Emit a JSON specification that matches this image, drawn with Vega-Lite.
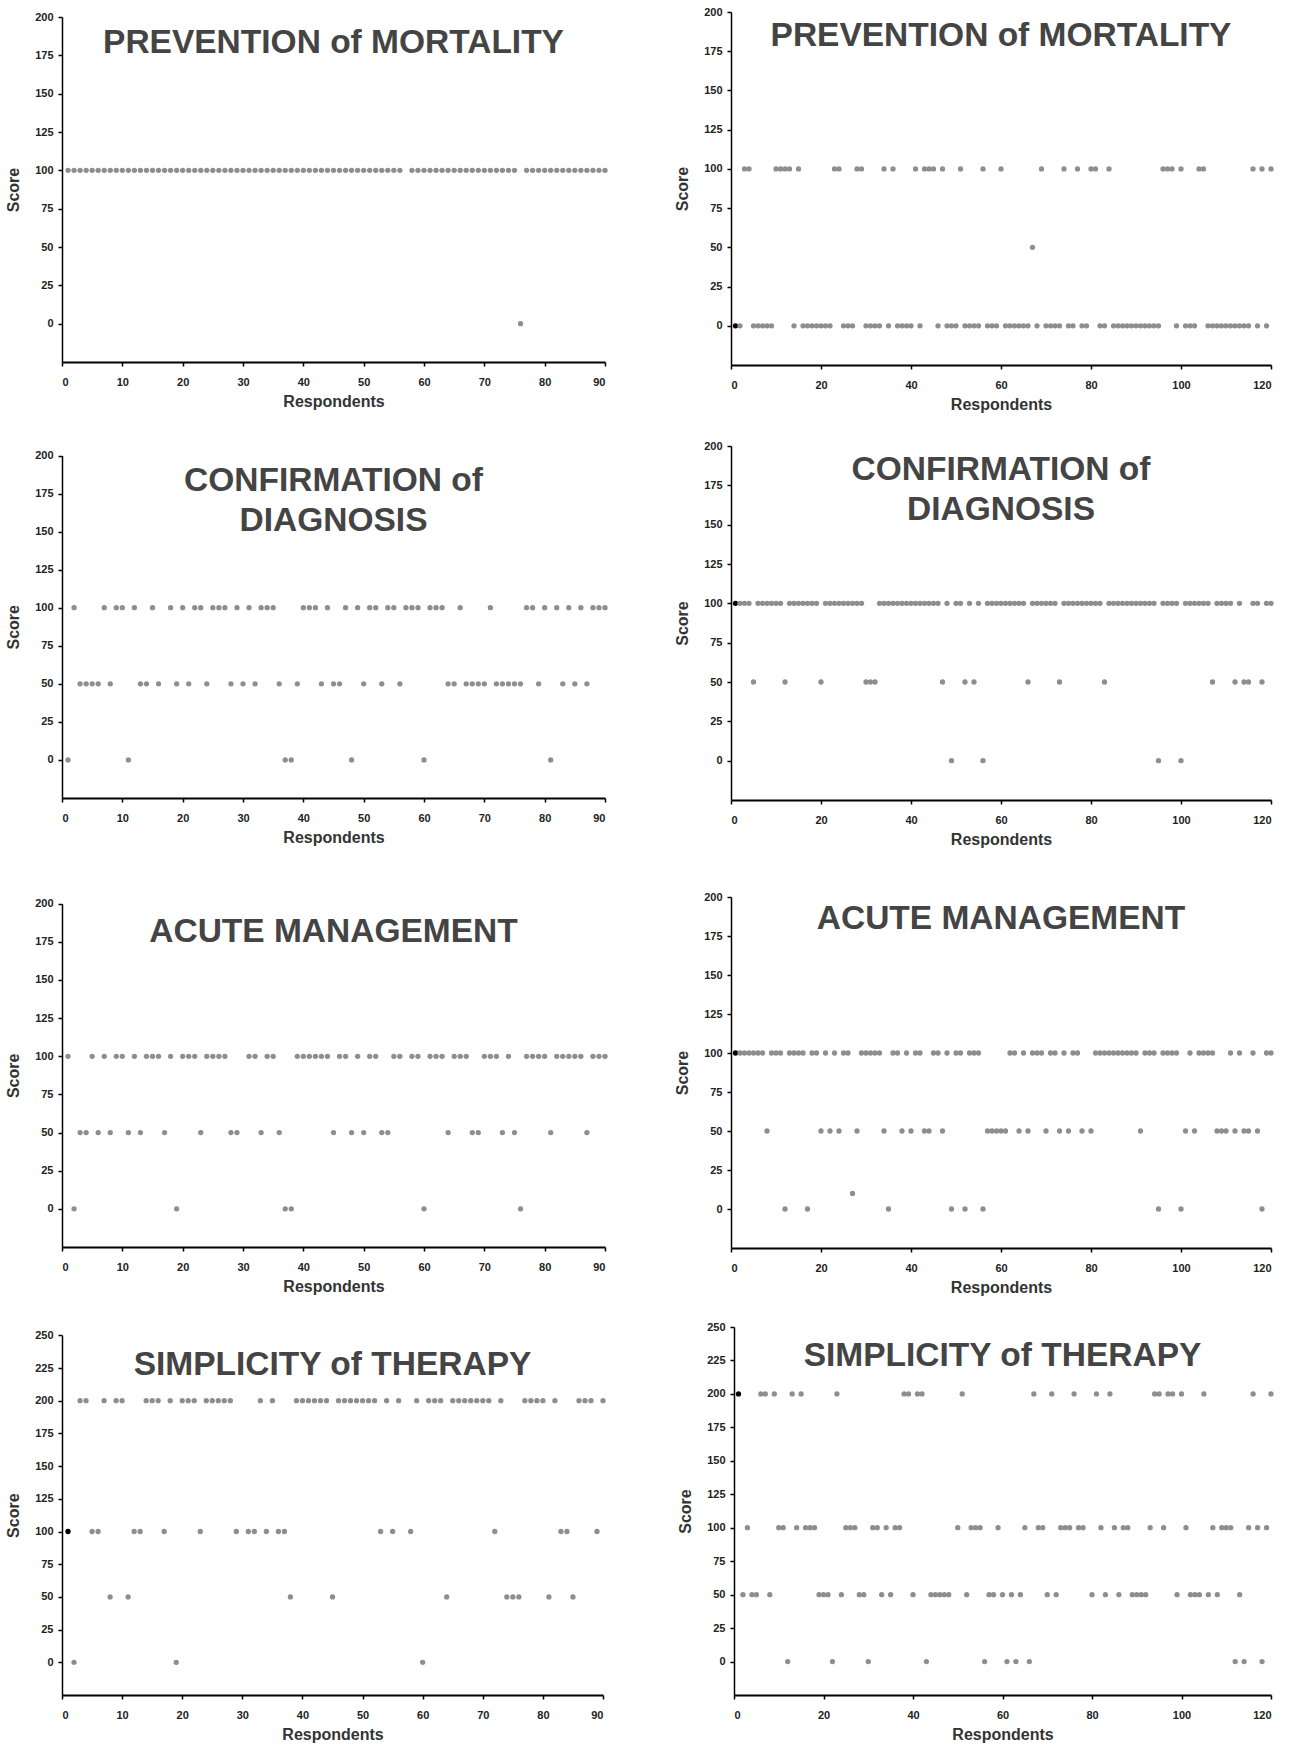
{
"$schema": "https://vega.github.io/schema/vega-lite/v6.json",
"background": "white",
"padding": {"left": 5, "top": 6, "right": 5, "bottom": 5},
"config": {
  "font": "Liberation Sans",
  "view": {"stroke": null},
  "axis": {"domainColor": "#000", "tickColor": "#000", "tickSize": 4, "labelFont": "Liberation Sans", "labelFontSize": 11, "labelFontWeight": "bold", "labelColor": "#222", "titleFont": "Liberation Sans", "titleFontSize": 16, "titleFontWeight": "bold", "titleColor": "#333", "grid": false},
  "axisX": {"labelPadding": 10, "titlePadding": 6, "domainWidth": 2, "tickWidth": 1.5},
  "axisY": {"labelPadding": 5, "titlePadding": 13, "domainWidth": 1.5, "tickWidth": 1.5},
  "title": {"font": "Liberation Sans", "fontSize": 33.5, "fontWeight": "bold", "color": "#444", "anchor": "middle", "baseline": "alphabetic", "lineHeight": 40, "frame": "group"},
  "point": {"filled": true, "size": 28, "opacity": 1}
},
"datasets": {
"a1": [{"r":1,"s":100},{"r":2,"s":100},{"r":3,"s":100},{"r":4,"s":100},{"r":5,"s":100},{"r":6,"s":100},{"r":7,"s":100},{"r":8,"s":100},{"r":9,"s":100},{"r":10,"s":100},{"r":11,"s":100},{"r":12,"s":100},{"r":13,"s":100},{"r":14,"s":100},{"r":15,"s":100},{"r":16,"s":100},{"r":17,"s":100},{"r":18,"s":100},{"r":19,"s":100},{"r":20,"s":100},{"r":21,"s":100},{"r":22,"s":100},{"r":23,"s":100},{"r":24,"s":100},{"r":25,"s":100},{"r":26,"s":100},{"r":27,"s":100},{"r":28,"s":100},{"r":29,"s":100},{"r":30,"s":100},{"r":31,"s":100},{"r":32,"s":100},{"r":33,"s":100},{"r":34,"s":100},{"r":35,"s":100},{"r":36,"s":100},{"r":37,"s":100},{"r":38,"s":100},{"r":39,"s":100},{"r":40,"s":100},{"r":41,"s":100},{"r":42,"s":100},{"r":43,"s":100},{"r":44,"s":100},{"r":45,"s":100},{"r":46,"s":100},{"r":47,"s":100},{"r":48,"s":100},{"r":49,"s":100},{"r":50,"s":100},{"r":51,"s":100},{"r":52,"s":100},{"r":53,"s":100},{"r":54,"s":100},{"r":55,"s":100},{"r":56,"s":100},{"r":58,"s":100},{"r":59,"s":100},{"r":60,"s":100},{"r":61,"s":100},{"r":62,"s":100},{"r":63,"s":100},{"r":64,"s":100},{"r":65,"s":100},{"r":66,"s":100},{"r":67,"s":100},{"r":68,"s":100},{"r":69,"s":100},{"r":70,"s":100},{"r":71,"s":100},{"r":72,"s":100},{"r":73,"s":100},{"r":74,"s":100},{"r":75,"s":100},{"r":76,"s":0},{"r":77,"s":100},{"r":78,"s":100},{"r":79,"s":100},{"r":80,"s":100},{"r":81,"s":100},{"r":82,"s":100},{"r":83,"s":100},{"r":84,"s":100},{"r":85,"s":100},{"r":86,"s":100},{"r":87,"s":100},{"r":88,"s":100},{"r":89,"s":100},{"r":90,"s":100}],
"b1": [{"r":1,"s":0},{"r":2,"s":0},{"r":3,"s":100},{"r":4,"s":100},{"r":5,"s":0},{"r":6,"s":0},{"r":7,"s":0},{"r":8,"s":0},{"r":9,"s":0},{"r":10,"s":100},{"r":11,"s":100},{"r":12,"s":100},{"r":13,"s":100},{"r":14,"s":0},{"r":15,"s":100},{"r":16,"s":0},{"r":17,"s":0},{"r":18,"s":0},{"r":19,"s":0},{"r":20,"s":0},{"r":21,"s":0},{"r":22,"s":0},{"r":23,"s":100},{"r":24,"s":100},{"r":25,"s":0},{"r":26,"s":0},{"r":27,"s":0},{"r":28,"s":100},{"r":29,"s":100},{"r":30,"s":0},{"r":31,"s":0},{"r":32,"s":0},{"r":33,"s":0},{"r":34,"s":100},{"r":35,"s":0},{"r":36,"s":100},{"r":37,"s":0},{"r":38,"s":0},{"r":39,"s":0},{"r":40,"s":0},{"r":41,"s":100},{"r":42,"s":0},{"r":43,"s":100},{"r":44,"s":100},{"r":45,"s":100},{"r":46,"s":0},{"r":47,"s":100},{"r":48,"s":0},{"r":49,"s":0},{"r":50,"s":0},{"r":51,"s":100},{"r":52,"s":0},{"r":53,"s":0},{"r":54,"s":0},{"r":55,"s":0},{"r":56,"s":100},{"r":57,"s":0},{"r":58,"s":0},{"r":59,"s":0},{"r":60,"s":100},{"r":61,"s":0},{"r":62,"s":0},{"r":63,"s":0},{"r":64,"s":0},{"r":65,"s":0},{"r":66,"s":0},{"r":67,"s":50},{"r":68,"s":0},{"r":69,"s":100},{"r":70,"s":0},{"r":71,"s":0},{"r":72,"s":0},{"r":73,"s":0},{"r":74,"s":100},{"r":75,"s":0},{"r":76,"s":0},{"r":77,"s":100},{"r":78,"s":0},{"r":79,"s":0},{"r":80,"s":100},{"r":81,"s":100},{"r":82,"s":0},{"r":83,"s":0},{"r":84,"s":100},{"r":85,"s":0},{"r":86,"s":0},{"r":87,"s":0},{"r":88,"s":0},{"r":89,"s":0},{"r":90,"s":0},{"r":91,"s":0},{"r":92,"s":0},{"r":93,"s":0},{"r":94,"s":0},{"r":95,"s":0},{"r":96,"s":100},{"r":97,"s":100},{"r":98,"s":100},{"r":99,"s":0},{"r":100,"s":100},{"r":101,"s":0},{"r":102,"s":0},{"r":103,"s":0},{"r":104,"s":100},{"r":105,"s":100},{"r":106,"s":0},{"r":107,"s":0},{"r":108,"s":0},{"r":109,"s":0},{"r":110,"s":0},{"r":111,"s":0},{"r":112,"s":0},{"r":113,"s":0},{"r":114,"s":0},{"r":115,"s":0},{"r":116,"s":100},{"r":117,"s":0},{"r":118,"s":100},{"r":119,"s":0},{"r":120,"s":100}],
"a2": [{"r":1,"s":0},{"r":2,"s":100},{"r":3,"s":50},{"r":4,"s":50},{"r":5,"s":50},{"r":6,"s":50},{"r":7,"s":100},{"r":8,"s":50},{"r":9,"s":100},{"r":10,"s":100},{"r":11,"s":0},{"r":12,"s":100},{"r":13,"s":50},{"r":14,"s":50},{"r":15,"s":100},{"r":16,"s":50},{"r":18,"s":100},{"r":19,"s":50},{"r":20,"s":100},{"r":21,"s":50},{"r":22,"s":100},{"r":23,"s":100},{"r":24,"s":50},{"r":25,"s":100},{"r":26,"s":100},{"r":27,"s":100},{"r":28,"s":50},{"r":29,"s":100},{"r":30,"s":50},{"r":31,"s":100},{"r":32,"s":50},{"r":33,"s":100},{"r":34,"s":100},{"r":35,"s":100},{"r":36,"s":50},{"r":37,"s":0},{"r":38,"s":0},{"r":39,"s":50},{"r":40,"s":100},{"r":41,"s":100},{"r":42,"s":100},{"r":43,"s":50},{"r":44,"s":100},{"r":45,"s":50},{"r":46,"s":50},{"r":47,"s":100},{"r":48,"s":0},{"r":49,"s":100},{"r":50,"s":50},{"r":51,"s":100},{"r":52,"s":100},{"r":53,"s":50},{"r":54,"s":100},{"r":55,"s":100},{"r":56,"s":50},{"r":57,"s":100},{"r":58,"s":100},{"r":59,"s":100},{"r":60,"s":0},{"r":61,"s":100},{"r":62,"s":100},{"r":63,"s":100},{"r":64,"s":50},{"r":65,"s":50},{"r":66,"s":100},{"r":67,"s":50},{"r":68,"s":50},{"r":69,"s":50},{"r":70,"s":50},{"r":71,"s":100},{"r":72,"s":50},{"r":73,"s":50},{"r":74,"s":50},{"r":75,"s":50},{"r":76,"s":50},{"r":77,"s":100},{"r":78,"s":100},{"r":79,"s":50},{"r":80,"s":100},{"r":81,"s":0},{"r":82,"s":100},{"r":83,"s":50},{"r":84,"s":100},{"r":85,"s":50},{"r":86,"s":100},{"r":87,"s":50},{"r":88,"s":100},{"r":89,"s":100},{"r":90,"s":100}],
"b2": [{"r":1,"s":100},{"r":2,"s":100},{"r":3,"s":100},{"r":4,"s":100},{"r":5,"s":50},{"r":6,"s":100},{"r":7,"s":100},{"r":8,"s":100},{"r":9,"s":100},{"r":10,"s":100},{"r":11,"s":100},{"r":12,"s":50},{"r":13,"s":100},{"r":14,"s":100},{"r":15,"s":100},{"r":16,"s":100},{"r":17,"s":100},{"r":18,"s":100},{"r":19,"s":100},{"r":20,"s":50},{"r":21,"s":100},{"r":22,"s":100},{"r":23,"s":100},{"r":24,"s":100},{"r":25,"s":100},{"r":26,"s":100},{"r":27,"s":100},{"r":28,"s":100},{"r":29,"s":100},{"r":30,"s":50},{"r":31,"s":50},{"r":32,"s":50},{"r":33,"s":100},{"r":34,"s":100},{"r":35,"s":100},{"r":36,"s":100},{"r":37,"s":100},{"r":38,"s":100},{"r":39,"s":100},{"r":40,"s":100},{"r":41,"s":100},{"r":42,"s":100},{"r":43,"s":100},{"r":44,"s":100},{"r":45,"s":100},{"r":46,"s":100},{"r":47,"s":50},{"r":48,"s":100},{"r":49,"s":0},{"r":50,"s":100},{"r":51,"s":100},{"r":52,"s":50},{"r":53,"s":100},{"r":54,"s":50},{"r":55,"s":100},{"r":56,"s":0},{"r":57,"s":100},{"r":58,"s":100},{"r":59,"s":100},{"r":60,"s":100},{"r":61,"s":100},{"r":62,"s":100},{"r":63,"s":100},{"r":64,"s":100},{"r":65,"s":100},{"r":66,"s":50},{"r":67,"s":100},{"r":68,"s":100},{"r":69,"s":100},{"r":70,"s":100},{"r":71,"s":100},{"r":72,"s":100},{"r":73,"s":50},{"r":74,"s":100},{"r":75,"s":100},{"r":76,"s":100},{"r":77,"s":100},{"r":78,"s":100},{"r":79,"s":100},{"r":80,"s":100},{"r":81,"s":100},{"r":82,"s":100},{"r":83,"s":50},{"r":84,"s":100},{"r":85,"s":100},{"r":86,"s":100},{"r":87,"s":100},{"r":88,"s":100},{"r":89,"s":100},{"r":90,"s":100},{"r":91,"s":100},{"r":92,"s":100},{"r":93,"s":100},{"r":94,"s":100},{"r":95,"s":0},{"r":96,"s":100},{"r":97,"s":100},{"r":98,"s":100},{"r":99,"s":100},{"r":100,"s":0},{"r":101,"s":100},{"r":102,"s":100},{"r":103,"s":100},{"r":104,"s":100},{"r":105,"s":100},{"r":106,"s":100},{"r":107,"s":50},{"r":108,"s":100},{"r":109,"s":100},{"r":110,"s":100},{"r":111,"s":100},{"r":112,"s":50},{"r":113,"s":100},{"r":114,"s":50},{"r":115,"s":50},{"r":116,"s":100},{"r":117,"s":100},{"r":118,"s":50},{"r":119,"s":100},{"r":120,"s":100}],
"a3": [{"r":1,"s":100},{"r":2,"s":0},{"r":3,"s":50},{"r":4,"s":50},{"r":5,"s":100},{"r":6,"s":50},{"r":7,"s":100},{"r":8,"s":50},{"r":9,"s":100},{"r":10,"s":100},{"r":11,"s":50},{"r":12,"s":100},{"r":13,"s":50},{"r":14,"s":100},{"r":15,"s":100},{"r":16,"s":100},{"r":17,"s":50},{"r":18,"s":100},{"r":19,"s":0},{"r":20,"s":100},{"r":21,"s":100},{"r":22,"s":100},{"r":23,"s":50},{"r":24,"s":100},{"r":25,"s":100},{"r":26,"s":100},{"r":27,"s":100},{"r":28,"s":50},{"r":29,"s":50},{"r":31,"s":100},{"r":32,"s":100},{"r":33,"s":50},{"r":34,"s":100},{"r":35,"s":100},{"r":36,"s":50},{"r":37,"s":0},{"r":38,"s":0},{"r":39,"s":100},{"r":40,"s":100},{"r":41,"s":100},{"r":42,"s":100},{"r":43,"s":100},{"r":44,"s":100},{"r":45,"s":50},{"r":46,"s":100},{"r":47,"s":100},{"r":48,"s":50},{"r":49,"s":100},{"r":50,"s":50},{"r":51,"s":100},{"r":52,"s":100},{"r":53,"s":50},{"r":54,"s":50},{"r":55,"s":100},{"r":56,"s":100},{"r":58,"s":100},{"r":59,"s":100},{"r":60,"s":0},{"r":61,"s":100},{"r":62,"s":100},{"r":63,"s":100},{"r":64,"s":50},{"r":65,"s":100},{"r":66,"s":100},{"r":67,"s":100},{"r":68,"s":50},{"r":69,"s":50},{"r":70,"s":100},{"r":71,"s":100},{"r":72,"s":100},{"r":73,"s":50},{"r":74,"s":100},{"r":75,"s":50},{"r":76,"s":0},{"r":77,"s":100},{"r":78,"s":100},{"r":79,"s":100},{"r":80,"s":100},{"r":81,"s":50},{"r":82,"s":100},{"r":83,"s":100},{"r":84,"s":100},{"r":85,"s":100},{"r":86,"s":100},{"r":87,"s":50},{"r":88,"s":100},{"r":89,"s":100},{"r":90,"s":100}],
"b3": [{"r":1,"s":100},{"r":2,"s":100},{"r":3,"s":100},{"r":4,"s":100},{"r":5,"s":100},{"r":6,"s":100},{"r":7,"s":100},{"r":8,"s":50},{"r":9,"s":100},{"r":10,"s":100},{"r":11,"s":100},{"r":12,"s":0},{"r":13,"s":100},{"r":14,"s":100},{"r":15,"s":100},{"r":16,"s":100},{"r":17,"s":0},{"r":18,"s":100},{"r":19,"s":100},{"r":20,"s":50},{"r":21,"s":100},{"r":22,"s":50},{"r":23,"s":100},{"r":24,"s":50},{"r":25,"s":100},{"r":26,"s":100},{"r":27,"s":10},{"r":28,"s":50},{"r":29,"s":100},{"r":30,"s":100},{"r":31,"s":100},{"r":32,"s":100},{"r":33,"s":100},{"r":34,"s":50},{"r":35,"s":0},{"r":36,"s":100},{"r":37,"s":100},{"r":38,"s":50},{"r":39,"s":100},{"r":40,"s":50},{"r":41,"s":100},{"r":42,"s":100},{"r":43,"s":50},{"r":44,"s":50},{"r":45,"s":100},{"r":46,"s":100},{"r":47,"s":50},{"r":48,"s":100},{"r":49,"s":0},{"r":50,"s":100},{"r":51,"s":100},{"r":52,"s":0},{"r":53,"s":100},{"r":54,"s":100},{"r":55,"s":100},{"r":56,"s":0},{"r":57,"s":50},{"r":58,"s":50},{"r":59,"s":50},{"r":60,"s":50},{"r":61,"s":50},{"r":62,"s":100},{"r":63,"s":100},{"r":64,"s":50},{"r":65,"s":100},{"r":66,"s":50},{"r":67,"s":100},{"r":68,"s":100},{"r":69,"s":100},{"r":70,"s":50},{"r":71,"s":100},{"r":72,"s":100},{"r":73,"s":50},{"r":74,"s":100},{"r":75,"s":50},{"r":76,"s":100},{"r":77,"s":100},{"r":78,"s":50},{"r":80,"s":50},{"r":81,"s":100},{"r":82,"s":100},{"r":83,"s":100},{"r":84,"s":100},{"r":85,"s":100},{"r":86,"s":100},{"r":87,"s":100},{"r":88,"s":100},{"r":89,"s":100},{"r":90,"s":100},{"r":91,"s":50},{"r":92,"s":100},{"r":93,"s":100},{"r":94,"s":100},{"r":95,"s":0},{"r":96,"s":100},{"r":97,"s":100},{"r":98,"s":100},{"r":99,"s":100},{"r":100,"s":0},{"r":101,"s":50},{"r":102,"s":100},{"r":103,"s":50},{"r":104,"s":100},{"r":105,"s":100},{"r":106,"s":100},{"r":107,"s":100},{"r":108,"s":50},{"r":109,"s":50},{"r":110,"s":50},{"r":111,"s":100},{"r":112,"s":50},{"r":113,"s":100},{"r":114,"s":50},{"r":115,"s":50},{"r":116,"s":100},{"r":117,"s":50},{"r":118,"s":0},{"r":119,"s":100},{"r":120,"s":100}],
"a4": [{"r":1,"s":100},{"r":2,"s":0},{"r":3,"s":200},{"r":4,"s":200},{"r":5,"s":100},{"r":6,"s":100},{"r":7,"s":200},{"r":8,"s":50},{"r":9,"s":200},{"r":10,"s":200},{"r":11,"s":50},{"r":12,"s":100},{"r":13,"s":100},{"r":14,"s":200},{"r":15,"s":200},{"r":16,"s":200},{"r":17,"s":100},{"r":18,"s":200},{"r":19,"s":0},{"r":20,"s":200},{"r":21,"s":200},{"r":22,"s":200},{"r":23,"s":100},{"r":24,"s":200},{"r":25,"s":200},{"r":26,"s":200},{"r":27,"s":200},{"r":28,"s":200},{"r":29,"s":100},{"r":31,"s":100},{"r":32,"s":100},{"r":33,"s":200},{"r":34,"s":100},{"r":35,"s":200},{"r":36,"s":100},{"r":37,"s":100},{"r":38,"s":50},{"r":39,"s":200},{"r":40,"s":200},{"r":41,"s":200},{"r":42,"s":200},{"r":43,"s":200},{"r":44,"s":200},{"r":45,"s":50},{"r":46,"s":200},{"r":47,"s":200},{"r":48,"s":200},{"r":49,"s":200},{"r":50,"s":200},{"r":51,"s":200},{"r":52,"s":200},{"r":53,"s":100},{"r":54,"s":200},{"r":55,"s":100},{"r":56,"s":200},{"r":58,"s":100},{"r":59,"s":200},{"r":60,"s":0},{"r":61,"s":200},{"r":62,"s":200},{"r":63,"s":200},{"r":64,"s":50},{"r":65,"s":200},{"r":66,"s":200},{"r":67,"s":200},{"r":68,"s":200},{"r":69,"s":200},{"r":70,"s":200},{"r":71,"s":200},{"r":72,"s":100},{"r":73,"s":200},{"r":74,"s":50},{"r":75,"s":50},{"r":76,"s":50},{"r":77,"s":200},{"r":78,"s":200},{"r":79,"s":200},{"r":80,"s":200},{"r":81,"s":50},{"r":82,"s":200},{"r":83,"s":100},{"r":84,"s":100},{"r":85,"s":50},{"r":86,"s":200},{"r":87,"s":200},{"r":88,"s":200},{"r":89,"s":100},{"r":90,"s":200}],
"b4": [{"r":1,"s":200},{"r":2,"s":50},{"r":3,"s":100},{"r":4,"s":50},{"r":5,"s":50},{"r":6,"s":200},{"r":7,"s":200},{"r":8,"s":50},{"r":9,"s":200},{"r":10,"s":100},{"r":11,"s":100},{"r":12,"s":0},{"r":13,"s":200},{"r":14,"s":100},{"r":15,"s":200},{"r":16,"s":100},{"r":17,"s":100},{"r":18,"s":100},{"r":19,"s":50},{"r":20,"s":50},{"r":21,"s":50},{"r":22,"s":0},{"r":23,"s":200},{"r":24,"s":50},{"r":25,"s":100},{"r":26,"s":100},{"r":27,"s":100},{"r":28,"s":50},{"r":29,"s":50},{"r":30,"s":0},{"r":31,"s":100},{"r":32,"s":100},{"r":33,"s":50},{"r":34,"s":100},{"r":35,"s":50},{"r":36,"s":100},{"r":37,"s":100},{"r":38,"s":200},{"r":39,"s":200},{"r":40,"s":50},{"r":41,"s":200},{"r":42,"s":200},{"r":43,"s":0},{"r":44,"s":50},{"r":45,"s":50},{"r":46,"s":50},{"r":47,"s":50},{"r":48,"s":50},{"r":50,"s":100},{"r":51,"s":200},{"r":52,"s":50},{"r":53,"s":100},{"r":54,"s":100},{"r":55,"s":100},{"r":56,"s":0},{"r":57,"s":50},{"r":58,"s":50},{"r":59,"s":100},{"r":60,"s":50},{"r":61,"s":0},{"r":62,"s":50},{"r":63,"s":0},{"r":64,"s":50},{"r":65,"s":100},{"r":66,"s":0},{"r":67,"s":200},{"r":68,"s":100},{"r":69,"s":100},{"r":70,"s":50},{"r":71,"s":200},{"r":72,"s":50},{"r":73,"s":100},{"r":74,"s":100},{"r":75,"s":100},{"r":76,"s":200},{"r":77,"s":100},{"r":78,"s":100},{"r":80,"s":50},{"r":81,"s":200},{"r":82,"s":100},{"r":83,"s":50},{"r":84,"s":200},{"r":85,"s":100},{"r":86,"s":50},{"r":87,"s":100},{"r":88,"s":100},{"r":89,"s":50},{"r":90,"s":50},{"r":91,"s":50},{"r":92,"s":50},{"r":93,"s":100},{"r":94,"s":200},{"r":95,"s":200},{"r":96,"s":100},{"r":97,"s":200},{"r":98,"s":200},{"r":99,"s":50},{"r":100,"s":200},{"r":101,"s":100},{"r":102,"s":50},{"r":103,"s":50},{"r":104,"s":50},{"r":105,"s":200},{"r":106,"s":50},{"r":107,"s":100},{"r":108,"s":50},{"r":109,"s":100},{"r":110,"s":100},{"r":111,"s":100},{"r":112,"s":0},{"r":113,"s":50},{"r":114,"s":0},{"r":115,"s":100},{"r":116,"s":200},{"r":117,"s":100},{"r":118,"s":0},{"r":119,"s":100},{"r":120,"s":200}]
},
"spacing": 44,
"vconcat": [
 {"spacing": 28, "vconcat": [
  {"hconcat": [
   {"width": 543, "height": 353, "title": {"text": "PREVENTION of MORTALITY", "offset": -49.5}, "data": {"name": "a1"}, "mark": {"type": "point", "filled": true},
    "encoding": {"x": {"field": "r", "type": "quantitative", "scale": {"domain": [0, 90], "nice": false}, "axis": {"values": [0,10,20,30,40,50,60,70,80,90], "title": "Respondents", "offset": -3}},
     "y": {"field": "s", "type": "quantitative", "scale": {"domain": [-25, 200], "nice": false, "zero": false, "range": [350, 5]}, "axis": {"values": [0,25,50,75,100,125,150,175,200], "title": "Score"}},
     "color": {"value": "#8e8e8e"}}},
   {"width": 540, "height": 353, "title": {"text": "PREVENTION of MORTALITY", "offset": -47}, "data": {"name": "b1"}, "mark": {"type": "point", "filled": true},
    "encoding": {"x": {"field": "r", "type": "quantitative", "scale": {"domain": [0, 120], "nice": false}, "axis": {"values": [0,20,40,60,80,100,120], "title": "Respondents"}},
     "y": {"field": "s", "type": "quantitative", "scale": {"domain": [-25, 200], "nice": false, "zero": false}, "axis": {"values": [0,25,50,75,100,125,150,175,200], "title": "Score"}},
     "color": {"condition": {"test": "datum.r === 1", "value": "#000"}, "value": "#8e8e8e"}}}
  ], "spacing": 126, "bounds": "flush", "center": true},
  {"hconcat": [
   {"width": 543, "height": 354, "title": {"text": ["CONFIRMATION of", "DIAGNOSIS"], "offset": -92}, "data": {"name": "a2"}, "mark": {"type": "point", "filled": true},
    "encoding": {"x": {"field": "r", "type": "quantitative", "scale": {"domain": [0, 90], "nice": false}, "axis": {"values": [0,10,20,30,40,50,60,70,80,90], "title": "Respondents", "offset": -2}},
     "y": {"field": "s", "type": "quantitative", "scale": {"domain": [-25, 200], "nice": false, "zero": false, "range": [352, 9.5]}, "axis": {"values": [0,25,50,75,100,125,150,175,200], "title": "Score"}},
     "color": {"value": "#8e8e8e"}}},
   {"width": 540, "height": 354, "title": {"text": ["CONFIRMATION of", "DIAGNOSIS"], "offset": -87}, "data": {"name": "b2"}, "mark": {"type": "point", "filled": true},
    "encoding": {"x": {"field": "r", "type": "quantitative", "scale": {"domain": [0, 120], "nice": false}, "axis": {"values": [0,20,40,60,80,100,120], "title": "Respondents"}},
     "y": {"field": "s", "type": "quantitative", "scale": {"domain": [-25, 200], "nice": false, "zero": false}, "axis": {"values": [0,25,50,75,100,125,150,175,200], "title": "Score"}},
     "color": {"condition": {"test": "datum.r === 1", "value": "#000"}, "value": "#8e8e8e"}}}
  ], "spacing": 126, "bounds": "flush", "center": true}
 ]},
 {"spacing": 26, "vconcat": [
  {"hconcat": [
   {"width": 543, "height": 351, "title": {"text": "ACUTE MANAGEMENT", "offset": -52.5}, "data": {"name": "a3"}, "mark": {"type": "point", "filled": true},
    "encoding": {"x": {"field": "r", "type": "quantitative", "scale": {"domain": [0, 90], "nice": false}, "axis": {"values": [0,10,20,30,40,50,60,70,80,90], "title": "Respondents", "offset": -1}},
     "y": {"field": "s", "type": "quantitative", "scale": {"domain": [-25, 200], "nice": false, "zero": false, "range": [350, 6.7]}, "axis": {"values": [0,25,50,75,100,125,150,175,200], "title": "Score"}},
     "color": {"value": "#8e8e8e"}}},
   {"width": 540, "height": 351, "title": {"text": "ACUTE MANAGEMENT", "offset": -45}, "data": {"name": "b3"}, "mark": {"type": "point", "filled": true},
    "encoding": {"x": {"field": "r", "type": "quantitative", "scale": {"domain": [0, 120], "nice": false}, "axis": {"values": [0,20,40,60,80,100,120], "title": "Respondents"}},
     "y": {"field": "s", "type": "quantitative", "scale": {"domain": [-25, 200], "nice": false, "zero": false}, "axis": {"values": [0,25,50,75,100,125,150,175,200], "title": "Score"}},
     "color": {"condition": {"test": "datum.r === 1", "value": "#000"}, "value": "#8e8e8e"}}}
  ], "spacing": 126, "bounds": "flush", "center": true},
  {"hconcat": [
   {"width": 541, "height": 368, "title": {"text": "SIMPLICITY of THERAPY", "offset": -55}, "data": {"name": "a4"}, "mark": {"type": "point", "filled": true},
    "encoding": {"x": {"field": "r", "type": "quantitative", "scale": {"domain": [0, 90], "nice": false}, "axis": {"values": [0,10,20,30,40,50,60,70,80,90], "title": "Respondents"}},
     "y": {"field": "s", "type": "quantitative", "scale": {"domain": [-25, 250], "nice": false, "zero": false, "range": [368, 8.3]}, "axis": {"values": [0,25,50,75,100,125,150,175,200,225,250], "title": "Score"}},
     "color": {"condition": {"test": "datum.r === 1", "value": "#000"}, "value": "#8e8e8e"}}},
   {"width": 537, "height": 368, "title": {"text": "SIMPLICITY of THERAPY", "offset": -52}, "data": {"name": "b4"}, "mark": {"type": "point", "filled": true},
    "encoding": {"x": {"field": "r", "type": "quantitative", "scale": {"domain": [0, 120], "nice": false}, "axis": {"values": [0,20,40,60,80,100,120], "title": "Respondents"}},
     "y": {"field": "s", "type": "quantitative", "scale": {"domain": [-25, 250], "nice": false, "zero": false}, "axis": {"values": [0,25,50,75,100,125,150,175,200,225,250], "title": "Score"}},
     "color": {"condition": {"test": "datum.r === 1", "value": "#000"}, "value": "#8e8e8e"}}}
  ], "spacing": 131, "bounds": "flush", "center": true}
 ]}
]
}
